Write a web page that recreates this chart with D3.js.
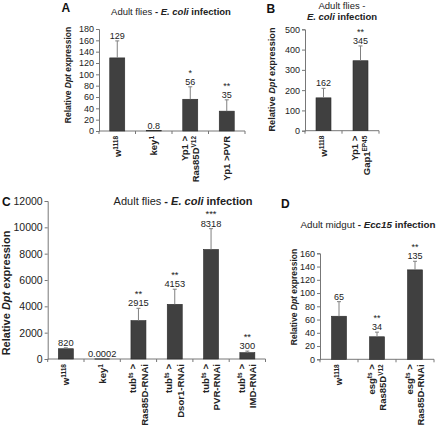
<!DOCTYPE html>
<html><head><meta charset="utf-8">
<script src="https://cdn.jsdelivr.net/npm/d3@7/dist/d3.min.js"></script>
<style>
html,body{margin:0;padding:0;background:#fff;}
svg{display:block;font-family:"Liberation Sans",Arial,sans-serif;}
</style></head>
<body>
<svg id="chart" width="438" height="426"></svg>
<script>
// ---------- DATA ----------
const catsA = [["w^{1118}"], ["key^{1}"], ["Yp1 >", "Ras85D^{V12}"], ["Yp1 >PVR"]];
const valuesA = [129, 0.8, 56, 35];
const errTopA = [159, null, 78, 55];
const labelsA = ["129", "0.8", "56", "35"];
const starsA = ["", "", "*", "**"];
const ticksA = [0, 20, 40, 60, 80, 100, 120, 140, 160, 180];

const catsB = [["w^{1118}"], ["Yp1 >", "Gap1^{EP45}"]];
const valuesB = [162, 345];
const errTopB = [209, 418];
const labelsB = ["162", "345"];
const starsB = ["", "**"];
const ticksB = [0, 100, 200, 300, 400, 500];

const catsC = [["w^{1118}"], ["key^{1}"], ["tub^{ts} >", "Ras85D-RNAi"], ["tub^{ts} >", "Dsor1-RNAi"], ["tub^{ts} >", "PVR-RNAi"], ["tub^{ts} >", "IMD-RNAi"]];
const valuesC = [780, 0.0002, 2915, 4153, 8318, 480];
const errTopC = [850, null, 3850, 5300, 9900, 600];
const labelsC = ["820", "0.0002", "2915", "4153", "8318", "300"];
const starsC = ["", "", "**", "**", "***", "**"];
const ticksC = [0, 2000, 4000, 6000, 8000, 10000, 12000];

const catsD = [["w^{1118}"], ["esg^{ts} >", "Ras85D^{V12}"], ["esg^{ts} >", "Ras85D-RNAi"]];
const valuesD = [65, 34, 135];
const errTopD = [87, 41, 148];
const labelsD = ["65", "34", "135"];
const starsD = ["", "**", "**"];
const ticksD = [0, 20, 40, 60, 80, 100, 120, 140, 160];

// ---------- DRAW ----------
const svg = d3.select("#chart");
const TXT = "#222";
const BAR = "#404040";
const AX = "#777";

function richText(sel, str, supSize) {
  const re = /\^\{([^}]*)\}/g;
  let last = 0, m;
  while ((m = re.exec(str)) !== null) {
    if (m.index > last) sel.append("tspan").text(str.slice(last, m.index));
    sel.append("tspan").attr("baseline-shift", "super").attr("font-size", supSize).text(m[1]);
    last = re.lastIndex;
  }
  if (last < str.length) sel.append("tspan").text(str.slice(last));
}

function panel(o) {
  const g = svg.append("g");
  const x = d3.scaleBand().domain(d3.range(o.cats.length)).range([o.x0, o.x1]).padding(0);
  const y = d3.scaleLinear().domain([0, o.ymax]).range([o.y0, o.y1]);
  const bw = o.barW;
  const ya = d3.axisLeft(y).tickValues(o.ticks).tickSize(3).tickPadding(2).tickFormat(d3.format("d"));
  const yg = g.append("g").attr("transform", `translate(${o.x0},0)`).call(ya);
  yg.select(".domain").attr("stroke", AX);
  yg.selectAll(".tick line").attr("stroke", AX);
  yg.selectAll("text").attr("fill", TXT).attr("font-size", o.tickFont).attr("font-family", "Liberation Sans, Arial, sans-serif");
  g.append("line").attr("x1", o.x0).attr("x2", o.x1).attr("y1", o.y0).attr("y2", o.y0).attr("stroke", AX);
  d3.range(o.cats.length + 1).forEach(i => {
    const xx = i < o.cats.length ? x(i) : o.x1;
    g.append("line").attr("x1", xx).attr("x2", xx).attr("y1", o.y0).attr("y2", o.y0 + 3).attr("stroke", AX);
  });
  g.selectAll("rect.bar").data(o.values).join("rect")
    .attr("x", (d, i) => x(i) + x.bandwidth() / 2 - bw / 2)
    .attr("y", d => y(d))
    .attr("width", bw)
    .attr("height", d => o.y0 - y(d))
    .attr("fill", BAR).attr("stroke", "#2a2a2a").attr("stroke-width", 0.6);
  o.errs.forEach((e, i) => {
    if (e == null) return;
    const cx = x(i) + x.bandwidth() / 2;
    g.append("line").attr("x1", cx).attr("x2", cx).attr("y1", y(o.values[i])).attr("y2", y(e)).attr("stroke", "#808080").attr("stroke-width", 1);
    g.append("line").attr("x1", cx - 2).attr("x2", cx + 2).attr("y1", y(e)).attr("y2", y(e)).attr("stroke", "#808080").attr("stroke-width", 1);
  });
  o.labels.forEach((l, i) => {
    const cx = x(i) + x.bandwidth() / 2;
    const top = o.errs[i] != null ? y(o.errs[i]) : y(o.values[i]);
    const base = top - 2;
    g.append("text").attr("x", cx).attr("y", base).attr("text-anchor", "middle")
      .attr("font-size", o.valFont).attr("fill", TXT).text(l);
    if (o.stars[i]) {
      g.append("text").attr("x", cx).attr("y", base - o.valFont * 1.0).attr("text-anchor", "middle")
        .attr("font-size", o.valFont).attr("fill", TXT).text(o.stars[i]);
    }
  });
  o.cats.forEach((lines, i) => {
    const cx = x(i) + x.bandwidth() / 2;
    const t = g.append("text").attr("transform", `translate(${cx},${o.y0 + 5}) rotate(-90)`)
      .attr("text-anchor", "end").attr("font-size", o.catFont).attr("font-weight", "bold").attr("fill", TXT);
    const n = lines.length;
    lines.forEach((ln, k) => {
      const dy = n === 1 ? 0.36 : (k === 0 ? -0.25 : 0.95);
      const ts = t.append("tspan").attr("x", 0).attr("y", 0).attr("dy", dy + "em");
      richText(ts, ln, o.catFont * 0.68);
    });
  });
  const yl = g.append("text").attr("transform", `translate(${o.ylx},${o.yly}) rotate(-90)`)
    .attr("text-anchor", "middle").attr("font-size", o.ylFont).attr("font-weight", "bold").attr("fill", TXT);
  yl.append("tspan").text("Relative ");
  yl.append("tspan").attr("font-style", "italic").text("Dpt");
  yl.append("tspan").text(" expression");
  svg.append("text").attr("x", o.lx).attr("y", o.ly).attr("font-size", 12).attr("font-weight", "bold").attr("fill", "#111").text(o.letter);
  o.title.forEach(tl => {
    const t = svg.append("text").attr("x", tl.x).attr("y", tl.y).attr("text-anchor", "middle").attr("font-size", tl.size).attr("fill", TXT);
    tl.parts.forEach(p => {
      const s = t.append("tspan").text(p[0]);
      if (p[1].includes("b")) s.attr("font-weight", "bold");
      if (p[1].includes("i")) s.attr("font-style", "italic");
    });
  });
}

panel({cats: catsA, values: valuesA, errs: errTopA, labels: labelsA, stars: starsA, ticks: ticksA, ymax: 180,
  x0: 99, x1: 245, y0: 131, y1: 29, barW: 15, tickFont: 9, valFont: 9, catFont: 9.5, ylFont: 8.5,
  ylx: 71, yly: 75, letter: "A", lx: 61.5, ly: 12,
  title: [{x: 171, y: 15, size: 9.5, parts: [["Adult flies ", ""], ["- ", "b"], ["E. coli", "bi"], [" infection", "b"]]}]});

panel({cats: catsB, values: valuesB, errs: errTopB, labels: labelsB, stars: starsB, ticks: ticksB, ymax: 500,
  x0: 305, x1: 379, y0: 130.7, y1: 29.3, barW: 15, tickFont: 9, valFont: 9, catFont: 9.5, ylFont: 9.2,
  ylx: 275, yly: 79.5, letter: "B", lx: 266.5, ly: 13,
  title: [{x: 342, y: 8.5, size: 9.5, parts: [["Adult flies -", ""]]},
          {x: 342, y: 19.5, size: 9.5, parts: [["E. coli", "bi"], [" infection", "b"]]}]});

panel({cats: catsC, values: valuesC, errs: errTopC, labels: labelsC, stars: starsC, ticks: ticksC, ymax: 12000,
  x0: 47.7, x1: 265.5, y0: 359, y1: 201, barW: 15, tickFont: 10.5, valFont: 9.3, catFont: 9.6, ylFont: 11,
  ylx: 10, yly: 293, letter: "C", lx: 2, ly: 206,
  title: [{x: 183, y: 205, size: 11, parts: [["Adult flies ", ""], ["- ", "b"], ["E. coli", "bi"], [" infection", "b"]]}]});

panel({cats: catsD, values: valuesD, errs: errTopD, labels: labelsD, stars: starsD, ticks: ticksD, ymax: 160,
  x0: 320, x1: 434, y0: 359.3, y1: 253.3, barW: 15, tickFont: 9, valFont: 9, catFont: 9.5, ylFont: 8.5,
  ylx: 297, yly: 297, letter: "D", lx: 281, ly: 208,
  title: [{x: 368, y: 228, size: 9.8, parts: [["Adult midgut ", ""], ["- ", "b"], ["Ecc15", "bi"], [" infection", "b"]]}]});
</script>
</body></html>
